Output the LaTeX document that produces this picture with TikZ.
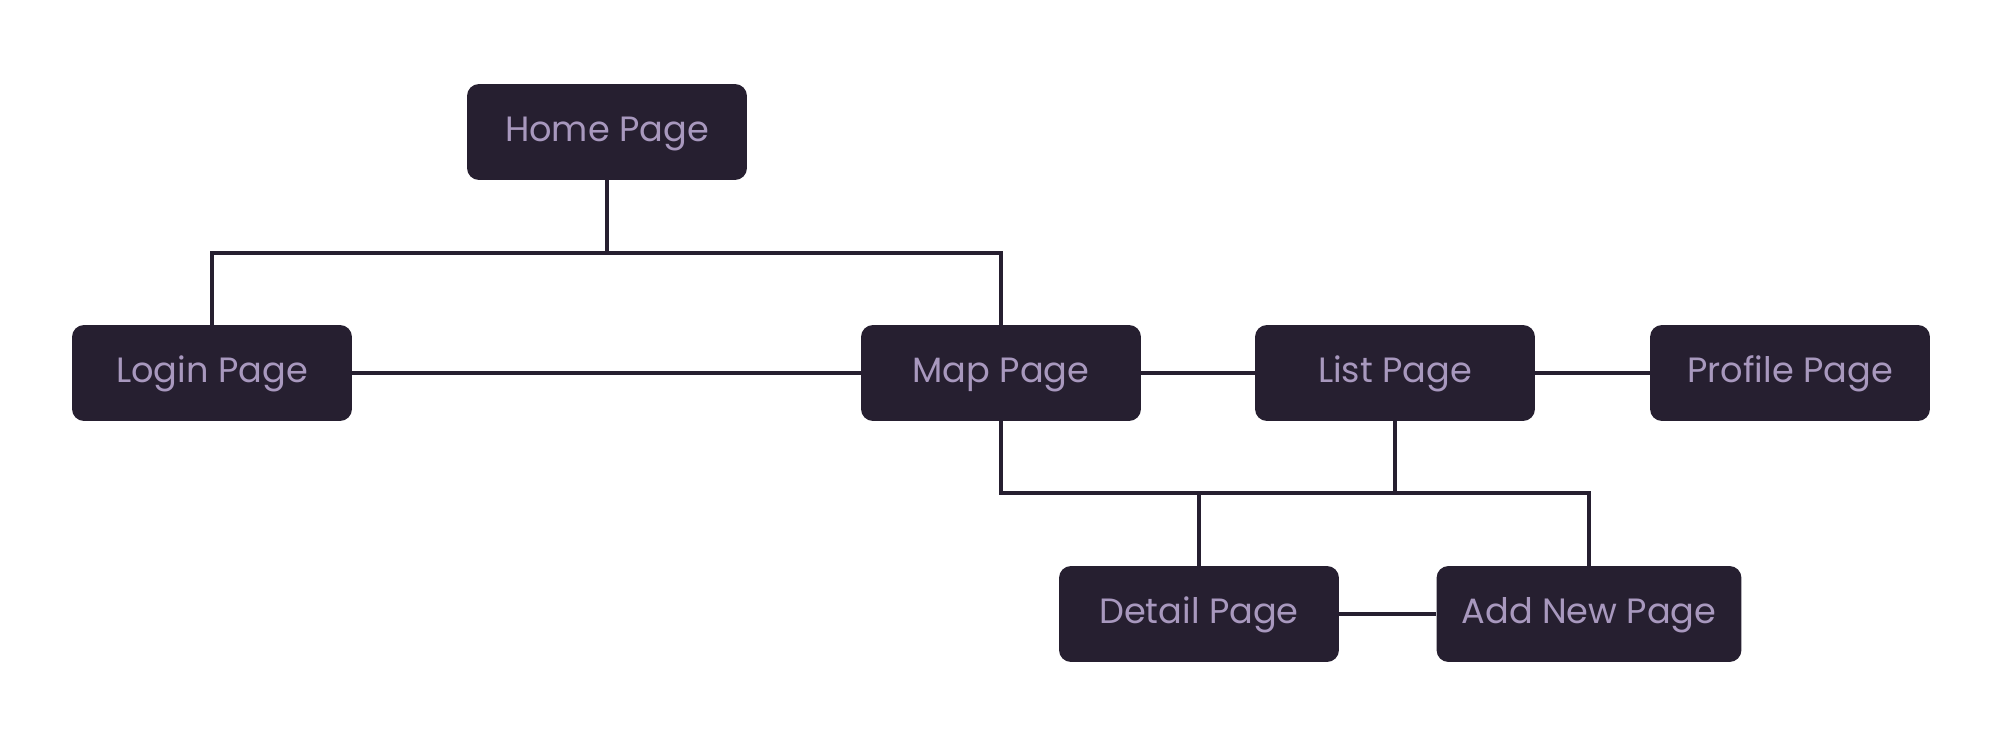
\documentclass[tikz,border=0pt]{standalone}
\usepackage{fontspec}
\setmainfont{Poppins}
\definecolor{pagefill}{RGB}{38,31,48}
\definecolor{pagetext}{RGB}{168,152,190}
\usetikzlibrary{positioning}

\begin{document}
\begin{tikzpicture}[x=0.02cm,y=-0.02cm]
\tikzset{
  pagenode/.style={rectangle,rounded corners=0.24cm,fill=pagefill,text=pagetext,minimum width=5.6cm,minimum height=1.92cm,inner sep=0pt,text height=1.12em,text depth=0.04em,font=\fontsize{20}{24}\selectfont},
  link/.style={draw=pagefill,line width=2.3pt}
}
\useasboundingbox (0,0) rectangle (2001,746);
\node[pagenode] (n_home) at (607,132) {Home Page};
\node[pagenode] (n_login) at (212,373) {Login Page};
\node[pagenode] (n_map) at (1001,373) {Map Page};
\node[pagenode] (n_list) at (1395,373) {List Page};
\node[pagenode] (n_profile) at (1790,373) {Profile Page};
\node[pagenode] (n_detail) at (1199,614) {Detail Page};
\node[pagenode,minimum width=6.1cm] (n_add) at (1589,614) {Add New Page};
\coordinate (bus_top) at (607,253);
\coordinate (bus_low) at (1395,493);
\draw[link] (n_home) -- (bus_top);
\draw[link] (n_login.north) |- (bus_top) -| (n_map.north);
\draw[link] (n_login) -- (n_map);
\draw[link] (n_map) -- (n_list);
\draw[link] (n_list) -- (n_profile);
\draw[link] (n_map.south) |- (bus_low) -| (n_add.north);
\draw[link] (n_list) -- (bus_low);
\draw[link] (n_detail.north) -- (n_detail.north |- bus_low);
\draw[link] (n_detail) -- (n_add);
\end{tikzpicture}
\end{document}
